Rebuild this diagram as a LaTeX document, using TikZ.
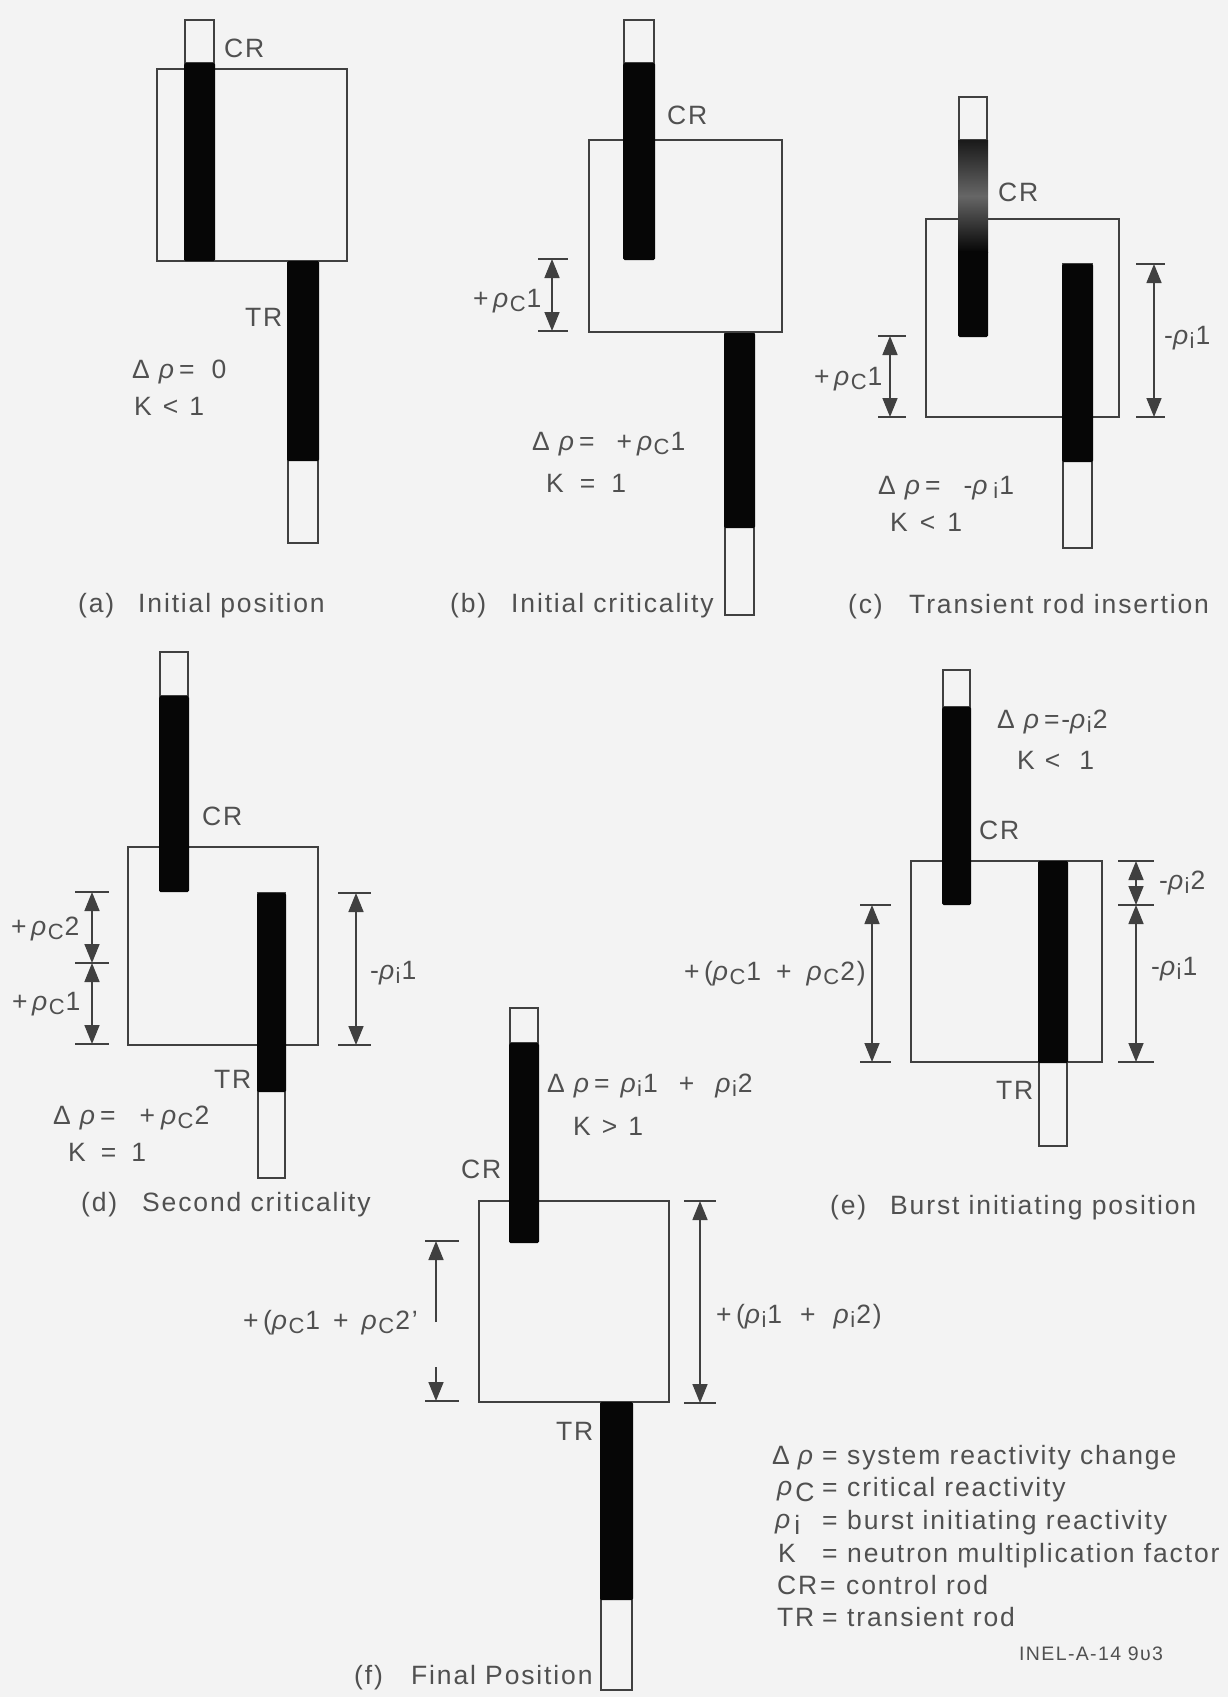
\documentclass[tikz,border=0pt]{standalone}
\usepackage{fontspec}
\setmainfont{Liberation Sans}[LetterSpace=7]
\usetikzlibrary{arrows.meta}
\definecolor{paper}{HTML}{F3F3F3}
\definecolor{ink}{HTML}{404040}
\definecolor{inktext}{HTML}{505050}
\definecolor{rodblack}{HTML}{060606}
\newcommand{\rh}{{\itshape ρ}}
\newcommand{\subC}{\kern1.5pt\raisebox{-4pt}{\fontsize{22}{22}\selectfont C}\kern1pt}
\newcommand{\subi}{\kern1.5pt\raisebox{-4pt}{\fontsize{22}{22}\selectfont i}\kern1pt}
\newcommand{\rc}{\rh\subC}
\newcommand{\ri}{\rh\subi}
\newcommand{\dr}{Δ\kern9pt\rh}
\newcommand{\gp}[1]{\kern#1pt}
\tikzset{
  x=1pt,y=-1pt,
  core/.style={draw=ink,line width=2pt},
  rodout/.style={draw=ink,line width=2pt,fill=paper},
  rodfill/.style={fill=rodblack,rounded corners=1.5pt},
  tickline/.style={draw=ink,line width=2pt},
  dimline/.style={draw=ink,line width=1.6pt,
    {Triangle[length=19pt,width=15pt]}-{Triangle[length=19pt,width=15pt]}},
  dimone/.style={draw=ink,line width=1.6pt,-{Triangle[length=19pt,width=15pt]}},
  lab/.style={inner sep=0pt,anchor=west,text=inktext,text height=19pt,text depth=0pt,
    font=\fontsize{26.5}{30}\selectfont},
  small lab/.style={lab,text height=15pt,font=\fontsize{19.5}{24}\selectfont}
}
% x1 x2 top blacktop blackbottom bottom
\newcommand{\rodshape}[6]{%
  \draw[rodout] (#1,#3) rectangle (#2,#6);
  \fill[rodfill] (#1-1,#4) rectangle (#2+1,#5);
}
% id xarrow xleft xright y1 y2
\newcommand{\dimv}[6]{%
  \coordinate (#1-a) at (#2,#5);
  \coordinate (#1-b) at (#2,#6);
  \draw[tickline] (#3,#5) -- (#4,#5);
  \draw[tickline] (#3,#6) -- (#4,#6);
  \draw[dimline] (#1-a) -- (#1-b);
}
\begin{document}
\begin{tikzpicture}
\path[fill=paper] (0,0) rectangle (1228,1697);
\useasboundingbox (0,0) rectangle (1228,1697);

% ---------- (a)
\draw[core] (157,69) rectangle (347,261);
\rodshape{185}{214}{20}{63}{261}{63}
\rodshape{288}{318}{261}{261}{461}{543}
\node[lab] (aCR) at (224,48) {CR};
\node[lab] (aTR) at (245,317) {TR};
\node[lab] (aD) at (132,369) {\dr\gp{5}=\gp{17}0};
\node[lab] (aK) at (134,406) {K\gp{11}<\gp{11}1};
\node[lab] (aC1) at (78,603) {(a)};
\node[lab] (aC2) at (138,603) {Initial position};

% ---------- (b)
\draw[core] (589,140) rectangle (782,332);
\rodshape{624}{654}{20}{63}{260}{63}
\rodshape{725}{754}{333}{333}{528}{615}
\node[lab] (bCR) at (667,115) {CR};
\dimv{bd}{552}{538}{568}{259}{331}
\node[lab] (bL) at (473,298) {+\,\rc 1};
\node[lab] (bD) at (532,441) {\dr\gp{5}=\gp{22}+\gp{5}\rc 1};
\node[lab] (bK) at (546,483) {K\gp{16}=\gp{16}1};
\node[lab] (bC1) at (450,603) {(b)};
\node[lab] (bC2) at (511,603) {Initial criticality};

% ---------- (c)
\draw[core] (926,219) rectangle (1119,417);
\draw[rodout] (959,97) rectangle (987,140);
\shade[top color=black!90!white,bottom color=rodblack,middle color=black!60!white] (958,140) rectangle (988,252);
\fill[rodfill] (958,251) rectangle (988,337);
\rodshape{1063}{1092}{264}{264}{462}{548}
\node[lab] (cCR) at (998,192) {CR};
\dimv{cl}{890}{878}{906}{336}{417}
\dimv{cr}{1154}{1136}{1165}{264}{417}
\node[lab] (cL) at (814,376) {+\,\rc 1};
\node[lab] (cR) at (1164,335) {-\ri 1};
\node[lab] (cD) at (878,485) {\dr\gp{5}=\gp{23}-\rh\,\subi 1};
\node[lab] (cK) at (890,522) {K\gp{12}<\gp{12}1};
\node[lab] (cC1) at (848,604) {(c)};
\node[lab] (cC2) at (909,604) {Transient rod insertion};

% ---------- (d)
\draw[core] (128,847) rectangle (318,1045);
\rodshape{160}{188}{652}{696}{892}{696}
\rodshape{258}{285}{893}{893}{1092}{1178}
\node[lab] (dCR) at (202,816) {CR};
\node[lab] (dTR) at (214,1079) {TR};
\dimv{dl1}{92}{75}{109}{892}{963}
\dimv{dl2}{92}{75}{109}{963}{1044}
\dimv{dr}{356}{338}{371}{893}{1045}
\node[lab] (dL2) at (11,926) {+\,\rc 2};
\node[lab] (dL1) at (12,1001) {+\,\rc 1};
\node[lab] (dR) at (370,970) {-\ri 1};
\node[lab] (dD) at (53,1115) {\dr\gp{5}=\gp{24}+\gp{6}\rc 2};
\node[lab] (dK) at (68,1152) {K\gp{15}=\gp{15}1};
\node[lab] (dC1) at (81,1202) {(d)};
\node[lab] (dC2) at (142,1202) {Second criticality};

% ---------- (e)
\draw[core] (911,861) rectangle (1102,1062);
\rodshape{943}{970}{670}{707}{905}{707}
\rodshape{1039}{1067}{861}{861}{1063}{1146}
\node[lab] (eCR) at (979,830) {CR};
\node[lab] (eTR) at (996,1090) {TR};
\node[lab] (eD) at (997,719) {\dr\gp{5}=-\ri 2};
\node[lab] (eK) at (1017,760) {K\gp{10}<\gp{19}1};
\dimv{el}{872}{860}{891}{905}{1062}
\dimv{er1}{1136}{1118}{1154}{861}{905}
\dimv{er2}{1136}{1118}{1154}{905}{1062}
\node[lab] (eL) at (684,971) {+\,(\rc 1\gp{15}+\gp{15}\rc 2)};
\node[lab] (eR2) at (1159,880) {-\ri 2};
\node[lab] (eR1) at (1151,966) {-\ri 1};
\node[lab] (eC1) at (830,1205) {(e)};
\node[lab] (eC2) at (890,1205) {Burst initiating position};

% ---------- (f)
\draw[core] (479,1201) rectangle (669,1402);
\rodshape{510}{538}{1008}{1043}{1243}{1043}
\rodshape{601}{632}{1402}{1402}{1600}{1690}
\node[lab] (fCR) at (461,1169) {CR};
\node[lab] (fTR) at (556,1431) {TR};
\node[lab] (fD) at (547,1083) {\dr\gp{5}=\gp{11}\ri 1\gp{21}+\gp{21}\ri 2};
\node[lab] (fK) at (573,1126) {K\gp{11}>\gp{11}1};
\coordinate (fl-t) at (436,1241);
\coordinate (fl-b) at (436,1401);
\coordinate (fl-mt) at (436,1322);
\coordinate (fl-mb) at (436,1367);
\draw[tickline] (425,1241) -- (459,1241);
\draw[tickline] (425,1401) -- (459,1401);
\draw[dimone] (fl-mt) -- (fl-t);
\draw[dimone] (fl-mb) -- (fl-b);
\dimv{fr}{700}{684}{716}{1201}{1403}
\node[lab] (fL) at (243,1320) {+\,(\rc 1\gp{13}+\gp{13}\rc 2'};
\node[lab] (fR) at (716,1314) {+\,(\ri 1\gp{18}+\gp{18}\ri 2)};
\node[lab] (fC1) at (354,1675) {(f)};
\node[lab] (fC2) at (411,1675) {Final Position};

% ---------- legend
\node[lab] (l1a) at (772,1455) {Δ\kern8pt\rh};
\node[lab] (l1e) at (822,1455) {=};
\node[lab] (l1t) at (847,1455) {system reactivity change};
\node[lab] (l2a) at (777,1486) {\rh\kern3pt\raisebox{-6pt}{C}};
\node[lab] (l2e) at (822,1487) {=};
\node[lab] (l2t) at (847,1487) {critical reactivity};
\node[lab] (l3a) at (775,1519) {\rh\kern4pt\raisebox{-6pt}{i}};
\node[lab] (l3e) at (822,1520) {=};
\node[lab] (l3t) at (847,1520) {burst initiating reactivity};
\node[lab] (l4a) at (778,1553) {K};
\node[lab] (l4e) at (822,1553) {=};
\node[lab] (l4t) at (847,1553) {neutron multiplication factor};
\node[lab] (l5a) at (777,1585) {CR};
\node[lab] (l5e) at (820,1585) {=};
\node[lab] (l5t) at (846,1585) {control rod};
\node[lab] (l6a) at (777,1617) {TR};
\node[lab] (l6e) at (822,1617) {=};
\node[lab] (l6t) at (847,1617) {transient rod};
\node[small lab] (id) at (1019,1653) {INEL-A-14 9υ3};
\end{tikzpicture}
\end{document}
